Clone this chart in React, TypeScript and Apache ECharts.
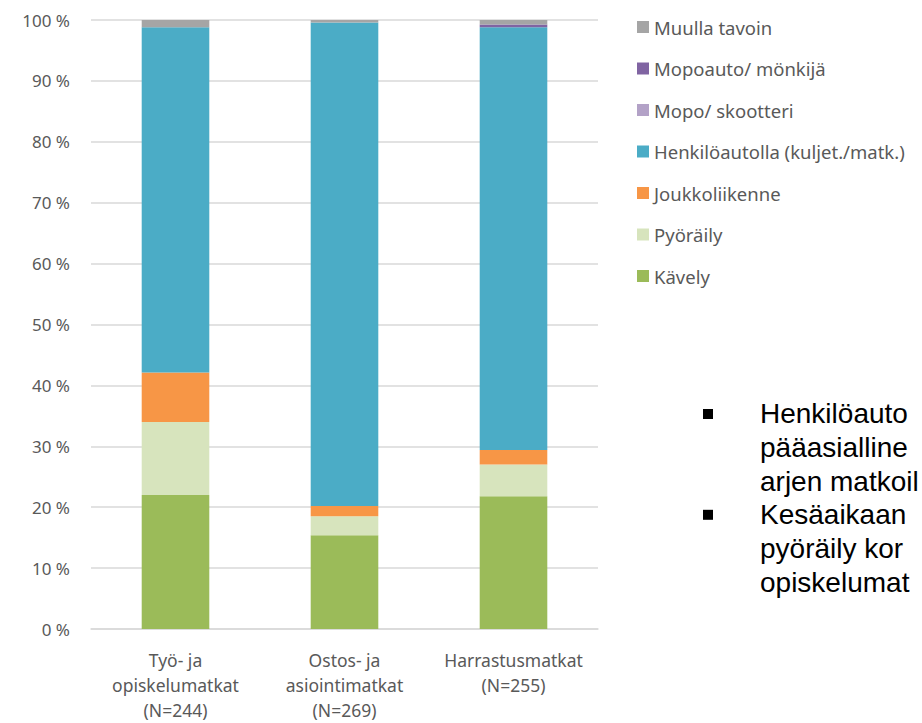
import React, { useEffect, useRef } from "react";
import * as echarts from "echarts";

const categories = [
  "Työ- ja\nopiskelumatkat\n(N=244)",
  "Ostos- ja\nasiointimatkat\n(N=269)",
  "Harrastusmatkat\n(N=255)",
];
const seriesNames = [
  "Kävely",
  "Pyöräily",
  "Joukkoliikenne",
  "Henkilöautolla (kuljet./matk.)",
  "Mopo/ skootteri",
  "Mopoauto/ mönkijä",
  "Muulla tavoin",
];
const kavely = [22.0, 15.4, 21.8];
const pyoraily = [12.0, 3.1, 5.2];
const joukko = [8.1, 1.7, 2.4];
const henkiloauto = [56.7, 79.4, 69.4];
const mopo = [0.0, 0.0, 0.0];
const mopoauto = [0.0, 0.0, 0.45];
const muulla = [1.2, 0.4, 0.75];
const seriesValues = [kavely, pyoraily, joukko, henkiloauto, mopo, mopoauto, muulla];
const colors = ["#9BBB59", "#D7E4BD", "#F79646", "#4BACC6", "#B3A2C7", "#8064A2", "#A5A5A5"];
const yTicks = [0, 10, 20, 30, 40, 50, 60, 70, 80, 90, 100];

const bulletLines = [
  ["Henkilöautolla kuljetaan", "pääasiallinen kulkutapa", "arjen matkoilla"],
  ["Kesäaikaan kävely ja", "pyöräily korostuvat työ- ja", "opiskelumatkoilla"],
];

export default function App() {
  const ref = useRef<HTMLDivElement>(null);
  useEffect(() => {
    if (!ref.current) return;
    const chart = echarts.init(ref.current, undefined, { renderer: "svg" });
    const textColor = "#595959";
    const font = "'Noto Sans', 'Open Sans', sans-serif";
    const bulletFont = "'Liberation Sans', Arial, sans-serif";
    const graphics: any[] = [];
    const lineH = 33.6;
    let y = 414;
    bulletLines.forEach((lines) => {
      graphics.push({
        type: "rect",
        shape: { x: 703, y: y - 5, width: 10, height: 10 },
        style: { fill: "#000" },
      });
      graphics.push({
        type: "text",
        x: 760,
        y: y - lineH / 2,
        style: {
          text: lines.join("\n"),
          fill: "#000",
          font: `28px ${bulletFont}`,
          lineHeight: lineH,
          width: 161,
          overflow: "truncate",
          ellipsis: "",
          verticalAlign: "top",
        },
      });
      y += lineH * lines.length;
    });
    chart.setOption({
      animation: false,
      color: colors,
      textStyle: { fontFamily: font },
      grid: { left: 91, right: 324, top: 20, bottom: 94 },
      legend: {
        orient: "vertical",
        left: 637,
        top: 17,
        data: [...seriesNames].reverse(),
        icon: "rect",
        itemWidth: 12,
        itemHeight: 12,
        itemGap: 21.5,
        padding: [0, 0, 0, 0],
        textStyle: { color: textColor, fontSize: 18.5, lineHeight: 20, fontFamily: font },
      },
      xAxis: {
        type: "category",
        data: categories,
        axisLine: { lineStyle: { color: "#D9D9D9", width: 1.5 } },
        axisTick: { show: false },
        axisLabel: {
          color: textColor,
          fontSize: 17.5,
          lineHeight: 25,
          margin: 18,
          interval: 0,
          fontFamily: font,
        },
      },
      yAxis: {
        type: "value",
        min: 0,
        max: 100,
        interval: 10,
        axisLine: { show: false },
        axisTick: { show: false },
        splitLine: { lineStyle: { color: "#D9D9D9", width: 1.5 } },
        axisLabel: {
          color: textColor,
          fontSize: 17,
          margin: 21,
          fontFamily: font,
          formatter: (v: number) => (yTicks.includes(v) ? `${v} %` : ""),
        },
      },
      series: seriesNames.map((name, i) => ({
        name,
        type: "bar",
        stack: "total",
        barWidth: "40%",
        data: seriesValues[i],
        itemStyle: { color: colors[i] },
      })),
      graphic: graphics,
    });
    return () => chart.dispose();
  }, []);
  return (
    <div
      ref={ref}
      style={{ position: "fixed", left: 0, top: 0, width: 922, height: 723, background: "#fff" }}
    />
  );
}
